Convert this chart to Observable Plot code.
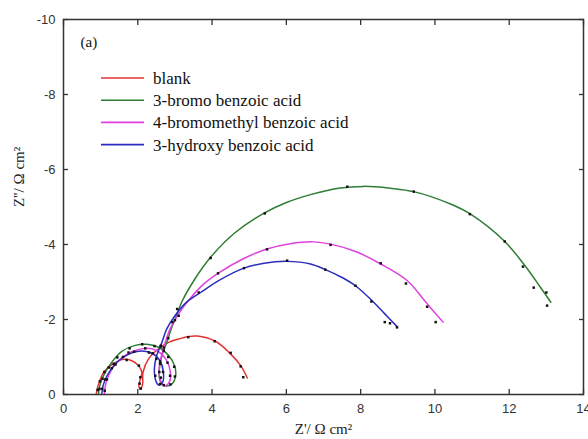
<!DOCTYPE html>
<html><head><meta charset="utf-8">
<script src="https://cdn.jsdelivr.net/npm/d3@7"></script>
<script src="https://cdn.jsdelivr.net/npm/@observablehq/plot@0.6"></script>
<style>
html,body{margin:0;padding:0;background:#fff;}
#wrap{position:relative;width:588px;height:439px;overflow:hidden;background:#fff;}
#wrap svg{display:block;}
#legend{position:absolute;left:0;top:0;}
.serif{font-family:"Liberation Serif","Times New Roman",Times,"DejaVu Serif",serif !important;}
</style></head><body><div id="wrap"></div>
<script>
// ---- labels / categories ----
const seriesNames = ["blank", "3-bromo benzoic acid", "4-bromomethyl benzoic acid", "3-hydroxy benzoic acid"];
const seriesColors = ["#e03333", "#2f7d34", "#e040e0", "#2b2bc0"];
const xTicks = [0, 2, 4, 6, 8, 10, 12, 14];
const yTicks = [0, -2, -4, -6, -8, -10];
const panelLabel = "(a)";
const xTitle = "Z'/ Ω cm²";
const yTitle = "Z''/ Ω cm²";

// ---- fitted curves [Z', Z''] ----
const blankFit = [[0.88,0],[0.92,-0.2],[1.03,-0.5],[1.15,-0.67],[1.3,-0.79],[1.57,-0.93],[1.84,-0.9],[2.02,-0.77],[2.11,-0.59],[2.07,-0.42],[2.03,-0.24],[2.07,-0.14],[2.13,-0.28],[2.14,-0.59],[2.29,-0.95],[2.56,-1.22],[2.83,-1.39],[3.1,-1.48],[3.33,-1.54],[3.6,-1.56],[4.09,-1.42],[4.45,-1.13],[4.77,-0.77],[4.95,-0.44]];
const bromoFit = [[0.94,0],[0.98,-0.25],[1.08,-0.51],[1.3,-0.86],[1.57,-1.15],[1.93,-1.31],[2.24,-1.34],[2.56,-1.26],[2.83,-1.04],[2.99,-0.77],[3.02,-0.51],[2.92,-0.28],[2.74,-0.23],[2.6,-0.37],[2.58,-0.68],[2.65,-1.04],[2.78,-1.39],[2.9,-1.75],[3.0,-2.0],[3.2,-2.5],[3.55,-3.1],[3.96,-3.66],[4.6,-4.3],[5.39,-4.83],[6.0,-5.12],[6.65,-5.33],[7.4,-5.5],[8.09,-5.55],[8.8,-5.5],[9.43,-5.41],[10.42,-5.08],[10.96,-4.81],[11.86,-4.1],[12.39,-3.48],[12.84,-2.86],[13.12,-2.46]];
const bromomethylFit = [[1.1,0],[1.13,-0.25],[1.21,-0.5],[1.48,-0.9],[1.84,-1.14],[2.2,-1.23],[2.51,-1.17],[2.75,-0.95],[2.87,-0.64],[2.85,-0.33],[2.72,-0.23],[2.6,-0.4],[2.58,-0.73],[2.65,-1.08],[2.74,-1.39],[2.87,-1.75],[3.1,-2.15],[3.4,-2.55],[3.78,-2.95],[4.16,-3.23],[4.8,-3.6],[5.48,-3.88],[6.1,-4.02],[6.74,-4.07],[7.19,-4.01],[7.9,-3.8],[8.54,-3.48],[9.25,-3.04],[9.79,-2.42],[10.22,-1.93]];
const hydroxyFit = [[1.03,0],[1.07,-0.25],[1.17,-0.5],[1.44,-0.86],[1.75,-1.07],[2.11,-1.16],[2.42,-1.08],[2.6,-0.9],[2.69,-0.59],[2.67,-0.33],[2.56,-0.25],[2.47,-0.42],[2.45,-0.73],[2.51,-1.04],[2.65,-1.39],[2.78,-1.75],[3.0,-2.1],[3.3,-2.45],[3.69,-2.72],[4.2,-3.05],[4.86,-3.37],[5.4,-3.5],[6.02,-3.55],[6.65,-3.48],[7.05,-3.33],[7.5,-3.12],[7.86,-2.9],[8.31,-2.5],[8.65,-2.15],[8.98,-1.81]];

// ---- measured points [Z', Z''] ----
const blankPts = [[0.92,-0.12],[0.98,-0.35],[1.1,-0.6],[1.35,-0.82],[1.7,-0.92],[2.03,-0.77],[2.07,-0.46],[2.05,-0.29],[2.08,-0.16],[2.4,-1.1],[2.62,-1.28],[3.36,-1.53],[4.07,-1.42],[4.5,-1.11],[4.77,-0.75],[4.84,-0.46]];
const bromoPts = [[0.97,-0.15],[1.05,-0.42],[1.22,-0.72],[1.45,-0.99],[1.78,-1.23],[2.12,-1.34],[2.45,-1.29],[2.82,-1.0],[2.98,-0.74],[3.0,-0.48],[2.88,-0.27],[2.62,-0.45],[2.6,-0.82],[2.7,-1.17],[2.82,-1.5],[2.93,-1.93],[3.06,-2.28],[3.96,-3.64],[5.42,-4.83],[7.64,-5.54],[9.43,-5.41],[10.94,-4.81],[11.88,-4.08],[12.37,-3.41],[12.66,-2.85],[13.0,-2.72],[13.02,-2.37]];
const bromomethylPts = [[1.11,-0.1],[1.17,-0.4],[1.4,-0.8],[1.75,-1.12],[2.2,-1.23],[2.8,-0.85],[2.87,-0.5],[2.7,-0.25],[2.58,-0.6],[2.7,-1.25],[3.1,-2.1],[4.16,-3.23],[5.48,-3.87],[7.19,-3.99],[8.54,-3.5],[9.22,-2.96],[9.79,-2.34],[10.02,-1.93]];
const hydroxyPts = [[1.04,-0.15],[1.12,-0.4],[1.3,-0.7],[1.6,-1.0],[1.9,-1.14],[2.3,-1.12],[2.6,-0.88],[2.68,-0.6],[2.6,-0.28],[2.47,-0.5],[2.5,-0.95],[2.62,-1.3],[3.0,-1.98],[3.64,-2.72],[4.86,-3.37],[6.02,-3.57],[7.05,-3.33],[7.86,-2.9],[8.29,-2.48],[8.65,-1.93],[8.79,-1.9],[8.98,-1.79]];

const fits = [blankFit, bromoFit, bromomethylFit, hydroxyFit];
const pts = [blankPts, bromoPts, bromomethylPts, hydroxyPts];

const fitRows = fits.flatMap((arr, i) => arr.map(([x, y], j) => ({x, y, s: seriesNames[i], j})));
const ptRows = pts.flatMap((arr, i) => arr.map(([x, y]) => ({x, y, s: seriesNames[i]})));

const W = 588, H = 439;
const mL = 63, mR = 5, mT = 19, mB = 45;
const axisColor = "#333";
const tickFont = "'Liberation Sans', Arial, Helvetica, sans-serif";
const serif = "'Liberation Serif', 'Times New Roman', Times, 'DejaVu Serif', serif";
const noLabel = () => "";
const plainNum = d => String(d);

const chart = Plot.plot({
  width: W, height: H,
  marginLeft: mL, marginRight: mR, marginTop: mT, marginBottom: mB,
  style: {fontFamily: tickFont, fontSize: "13px", color: axisColor, background: "#fff", overflow: "visible"},
  x: {domain: [0, 14]},
  y: {domain: [0, -10]},
  color: {domain: seriesNames, range: seriesColors},
  marks: [
    Plot.axisX(xTicks, {anchor: "bottom", tickSize: -5, tickPadding: 14, tickFormat: plainNum, label: null, stroke: axisColor, fill: "#333", strokeWidth: 1.3}),
    Plot.axisX(xTicks, {anchor: "top", tickSize: -5, tickFormat: noLabel, label: null, stroke: axisColor, strokeWidth: 1.3}),
    Plot.axisY(yTicks, {anchor: "left", tickSize: -5, tickPadding: 13, tickFormat: plainNum, label: null, stroke: axisColor, fill: "#333", strokeWidth: 1.3}),
    Plot.axisY(yTicks, {anchor: "right", tickSize: -5, tickFormat: noLabel, label: null, stroke: axisColor, strokeWidth: 1.3}),
    Plot.line(fitRows, {x: "x", y: "y", z: "s", stroke: "s", strokeWidth: 1.5, curve: "catmull-rom"}),
    Plot.dot(ptRows, {x: "x", y: "y", symbol: "square", r: 1.4, fill: "#111", stroke: null}),
    Plot.frame({stroke: axisColor, strokeWidth: 1.5}),
    Plot.text([panelLabel], {frameAnchor: "top-left", dx: 17, dy: 17, textAnchor: "start", fontSize: 15, fill: "#111", className: "serif"}),
    Plot.text([xTitle], {frameAnchor: "bottom", dy: 39, fontSize: 15, fill: "#222", className: "serif"}),
    Plot.text([yTitle], {frameAnchor: "left", dx: -44, rotate: -90, fontSize: 15, fill: "#222", className: "serif"})
  ]
});

const wrap = document.getElementById("wrap");
wrap.appendChild(chart);
d3.select(chart).selectAll(".serif text, g.serif").style("font-family", serif);

// legend overlay
const lg = d3.select(wrap).append("svg").attr("id", "legend").attr("width", W).attr("height", H);
seriesNames.forEach((name, i) => {
  const yy = 78 + i * 22.2;
  lg.append("line").attr("x1", 101).attr("x2", 144).attr("y1", yy).attr("y2", yy)
    .attr("stroke", seriesColors[i]).attr("stroke-width", 1.6);
  lg.append("text").attr("x", 153).attr("y", yy).attr("dy", "0.35em")
    .style("font-family", serif).attr("font-size", 17).attr("fill", "#111").text(name);
});
</script>
</body></html>
